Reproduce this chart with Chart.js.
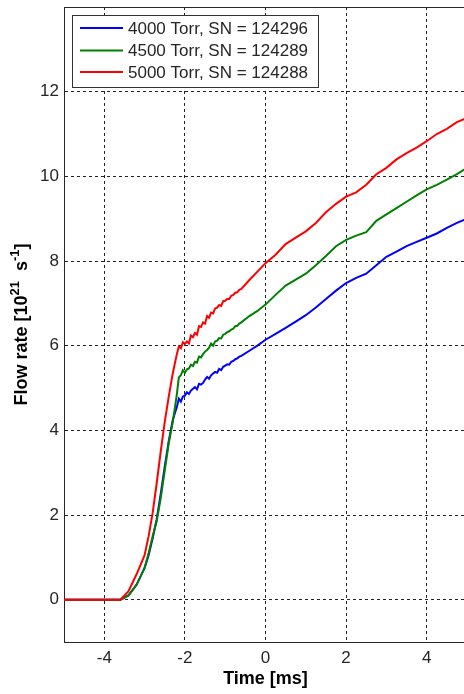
<!DOCTYPE html>
<html>
<head>
<meta charset="utf-8">
<script src="https://cdn.jsdelivr.net/npm/chart.js@4"></script>
<style>
  html, body { margin: 0; padding: 0; background: #fff; overflow: hidden; }
  canvas { display: block; }
</style>
</head>
<body>
<canvas id="flow-chart" width="467" height="694"></canvas>
<script>
// Time axis (ms) shared by all three traces; denser where the signal is noisy
const timeMs = [
  -5, -4, -3.6, -3.4, -3.2,
  -3.0, -2.9, -2.8, -2.7, -2.6, -2.5, -2.4, -2.3,
  -2.2, -2.15, -2.1, -2.05, -2.0, -1.95, -1.9, -1.85, -1.8, -1.75, -1.7,
  -1.65, -1.6, -1.55, -1.5, -1.45, -1.4, -1.35, -1.3, -1.25, -1.2, -1.15,
  -1.1, -1.05, -1.0, -0.95, -0.9, -0.85, -0.8, -0.75, -0.7, -0.65, -0.6,
  -0.4, -0.2, 0,
  0.25, 0.5, 0.75, 1.0, 1.25, 1.5, 1.75, 2.0, 2.25, 2.5,
  2.75, 3.0, 3.25, 3.5, 3.75, 4.0, 4.25, 4.5, 4.75, 5.0
];

// Flow rate [10^21 s^-1]
const flow4000 = [
  0, 0, 0, 0.1, 0.35,
  0.75, 1.05, 1.45, 1.9, 2.5, 3.15, 3.75, 4.25,
  4.55, 4.75, 4.68, 4.8, 4.82, 4.9, 4.86, 4.94, 4.98, 5.02, 4.97,
  5.1, 5.08, 5.12, 5.2, 5.26, 5.22, 5.3, 5.34, 5.38, 5.36, 5.45,
  5.42, 5.5, 5.53, 5.56, 5.55, 5.62, 5.64, 5.68, 5.7, 5.74, 5.76,
  5.88, 6.0, 6.14,
  6.28, 6.42, 6.57, 6.72, 6.9, 7.1, 7.3, 7.48, 7.6, 7.7,
  7.9, 8.1, 8.22, 8.35, 8.45, 8.55, 8.65, 8.78, 8.9, 9.0
];
const flow4500 = [
  0, 0, 0, 0.1, 0.35,
  0.75, 1.1, 1.5, 1.85, 2.4, 3.05, 3.7, 4.2,
  4.85, 5.25, 5.3, 5.42, 5.36, 5.44, 5.46, 5.55, 5.52, 5.62, 5.6,
  5.74, 5.72, 5.8, 5.86, 5.9, 5.95, 6.05, 6.0, 6.1, 6.12, 6.18,
  6.17, 6.26, 6.28, 6.32, 6.34, 6.38, 6.4, 6.46, 6.47, 6.52, 6.55,
  6.7, 6.82, 6.97,
  7.2, 7.42, 7.56, 7.7, 7.9, 8.12, 8.35, 8.5, 8.6, 8.68,
  8.95, 9.1, 9.25, 9.4, 9.55, 9.69, 9.8, 9.92, 10.05, 10.2
];
const flow5000 = [
  0, 0, 0, 0.2, 0.6,
  1.05, 1.5, 2.05, 2.75, 3.5, 4.2, 4.8, 5.35,
  5.8, 5.98, 5.94, 6.08, 6.04, 6.1, 6.05, 6.24, 6.2, 6.3, 6.26,
  6.46, 6.44, 6.55, 6.52, 6.7, 6.66, 6.78, 6.76, 6.88, 6.9, 6.96,
  6.94, 7.05, 7.06, 7.1, 7.1, 7.18, 7.2, 7.25, 7.26, 7.32, 7.34,
  7.55, 7.75, 7.95,
  8.15, 8.4, 8.55, 8.7, 8.9, 9.15, 9.35, 9.52, 9.62, 9.8,
  10.05, 10.2, 10.4, 10.55, 10.68, 10.83, 11.0, 11.12, 11.28, 11.38
];

const seriesLabels = [
  '4000 Torr, SN = 124296',
  '4500 Torr, SN = 124289',
  '5000 Torr, SN = 124288'
];
const seriesColors = ['#0000ff', '#008000', '#ff0000'];

const xTicks = [-4, -2, 0, 2, 4];
const yTicks = [0, 2, 4, 6, 8, 10, 12];

const FONT = '"Liberation Sans", Arial, Helvetica, sans-serif';
const TEXT_COLOR = '#262626';

function toPoints(ys) {
  return ys.map((y, i) => ({ x: timeMs[i], y }));
}

// Legend box in the upper-left corner of the plot
const legendBox = {
  id: 'legendBox',
  afterDraw(chart) {
    const ctx = chart.ctx;
    ctx.save();
    ctx.fillStyle = '#fff';
    ctx.fillRect(72.5, 15.5, 246, 72);
    ctx.strokeStyle = '#333';
    ctx.lineWidth = 1;
    ctx.strokeRect(72.5, 15.5, 246, 72);
    ctx.font = '17px ' + FONT;
    ctx.textBaseline = 'middle';
    ctx.fillStyle = TEXT_COLOR;
    const rows = [28, 50.5, 72];
    chart.data.datasets.forEach((ds, i) => {
      ctx.strokeStyle = ds.borderColor;
      ctx.lineWidth = 2;
      ctx.beginPath();
      ctx.moveTo(80, rows[i]);
      ctx.lineTo(123, rows[i]);
      ctx.stroke();
      ctx.fillText(ds.label, 128, rows[i] + 1);
    });
    ctx.restore();
  }
};

// Top frame line and the y axis title with superscripts
const frameAndTitle = {
  id: 'frameAndTitle',
  afterDraw(chart) {
    const ctx = chart.ctx;
    const area = chart.chartArea;
    ctx.save();
    ctx.strokeStyle = '#262626';
    ctx.lineWidth = 1;
    ctx.beginPath();
    ctx.moveTo(area.left, area.top + 0.5);
    ctx.lineTo(area.right, area.top + 0.5);
    ctx.stroke();

    const parts = [
      { text: 'Flow rate [10', size: 18, rise: 0 },
      { text: '21', size: 13, rise: 8 },
      { text: '  s', size: 18, rise: 0 },
      { text: '-1', size: 13, rise: 8 },
      { text: ']', size: 18, rise: 0 }
    ];
    let total = 0;
    parts.forEach(p => {
      ctx.font = 'bold ' + p.size + 'px ' + FONT;
      p.w = ctx.measureText(p.text).width;
      total += p.w;
    });
    ctx.translate(27, (area.top + area.bottom) / 2);
    ctx.rotate(-Math.PI / 2);
    ctx.fillStyle = '#000';
    ctx.textBaseline = 'alphabetic';
    let x = -total / 2;
    parts.forEach(p => {
      ctx.font = 'bold ' + p.size + 'px ' + FONT;
      ctx.fillText(p.text, x, -p.rise);
      x += p.w;
    });
    ctx.restore();
  }
};

// Keep the plot edges fixed: no extra room reserved for edge tick labels
function fixPadding(axis) {
  axis.paddingTop = 0;
  axis.paddingBottom = 0;
  axis.paddingLeft = 0;
  axis.paddingRight = 0;
}

const ctx = document.getElementById('flow-chart').getContext('2d');

new Chart(ctx, {
  type: 'line',
  data: {
    datasets: [
      { label: seriesLabels[0], data: toPoints(flow4000), borderColor: seriesColors[0], order: 2 },
      { label: seriesLabels[1], data: toPoints(flow4500), borderColor: seriesColors[1], order: 1 },
      { label: seriesLabels[2], data: toPoints(flow5000), borderColor: seriesColors[2], order: 0 }
    ].map(ds => Object.assign(ds, {
      borderWidth: 2,
      pointRadius: 0,
      tension: 0,
      fill: false
    }))
  },
  options: {
    responsive: false,
    animation: false,
    layout: { padding: { top: 7, right: 0, left: 0, bottom: 0 } },
    plugins: {
      legend: { display: false },
      tooltip: { enabled: false }
    },
    scales: {
      x: {
        type: 'linear',
        min: -5,
        max: 5,
        afterBuildTicks: axis => { axis.ticks = xTicks.map(v => ({ value: v })); },
        afterFit: axis => { axis.height = 52; fixPadding(axis); },
        grid: { color: '#222', lineWidth: 1, drawTicks: false },
        border: { display: true, color: '#262626', width: 1, dash: [3, 3] },
        ticks: {
          padding: 6,
          color: TEXT_COLOR,
          font: { family: FONT, size: 17 },
          maxRotation: 0
        },
        title: {
          display: true,
          text: 'Time [ms]',
          color: '#000',
          font: { family: FONT, size: 18, weight: 'bold' },
          padding: { top: 0, bottom: 4 }
        }
      },
      y: {
        type: 'linear',
        min: -1,
        max: 14,
        afterBuildTicks: axis => { axis.ticks = yTicks.map(v => ({ value: v })); },
        afterFit: axis => { axis.width = 64; fixPadding(axis); },
        grid: { color: '#222', lineWidth: 1, drawTicks: false },
        border: { display: true, color: '#262626', width: 1, dash: [3, 3] },
        ticks: {
          padding: 5,
          color: TEXT_COLOR,
          font: { family: FONT, size: 17 }
        }
      }
    }
  },
  plugins: [frameAndTitle, legendBox]
});
</script>
</body>
</html>
